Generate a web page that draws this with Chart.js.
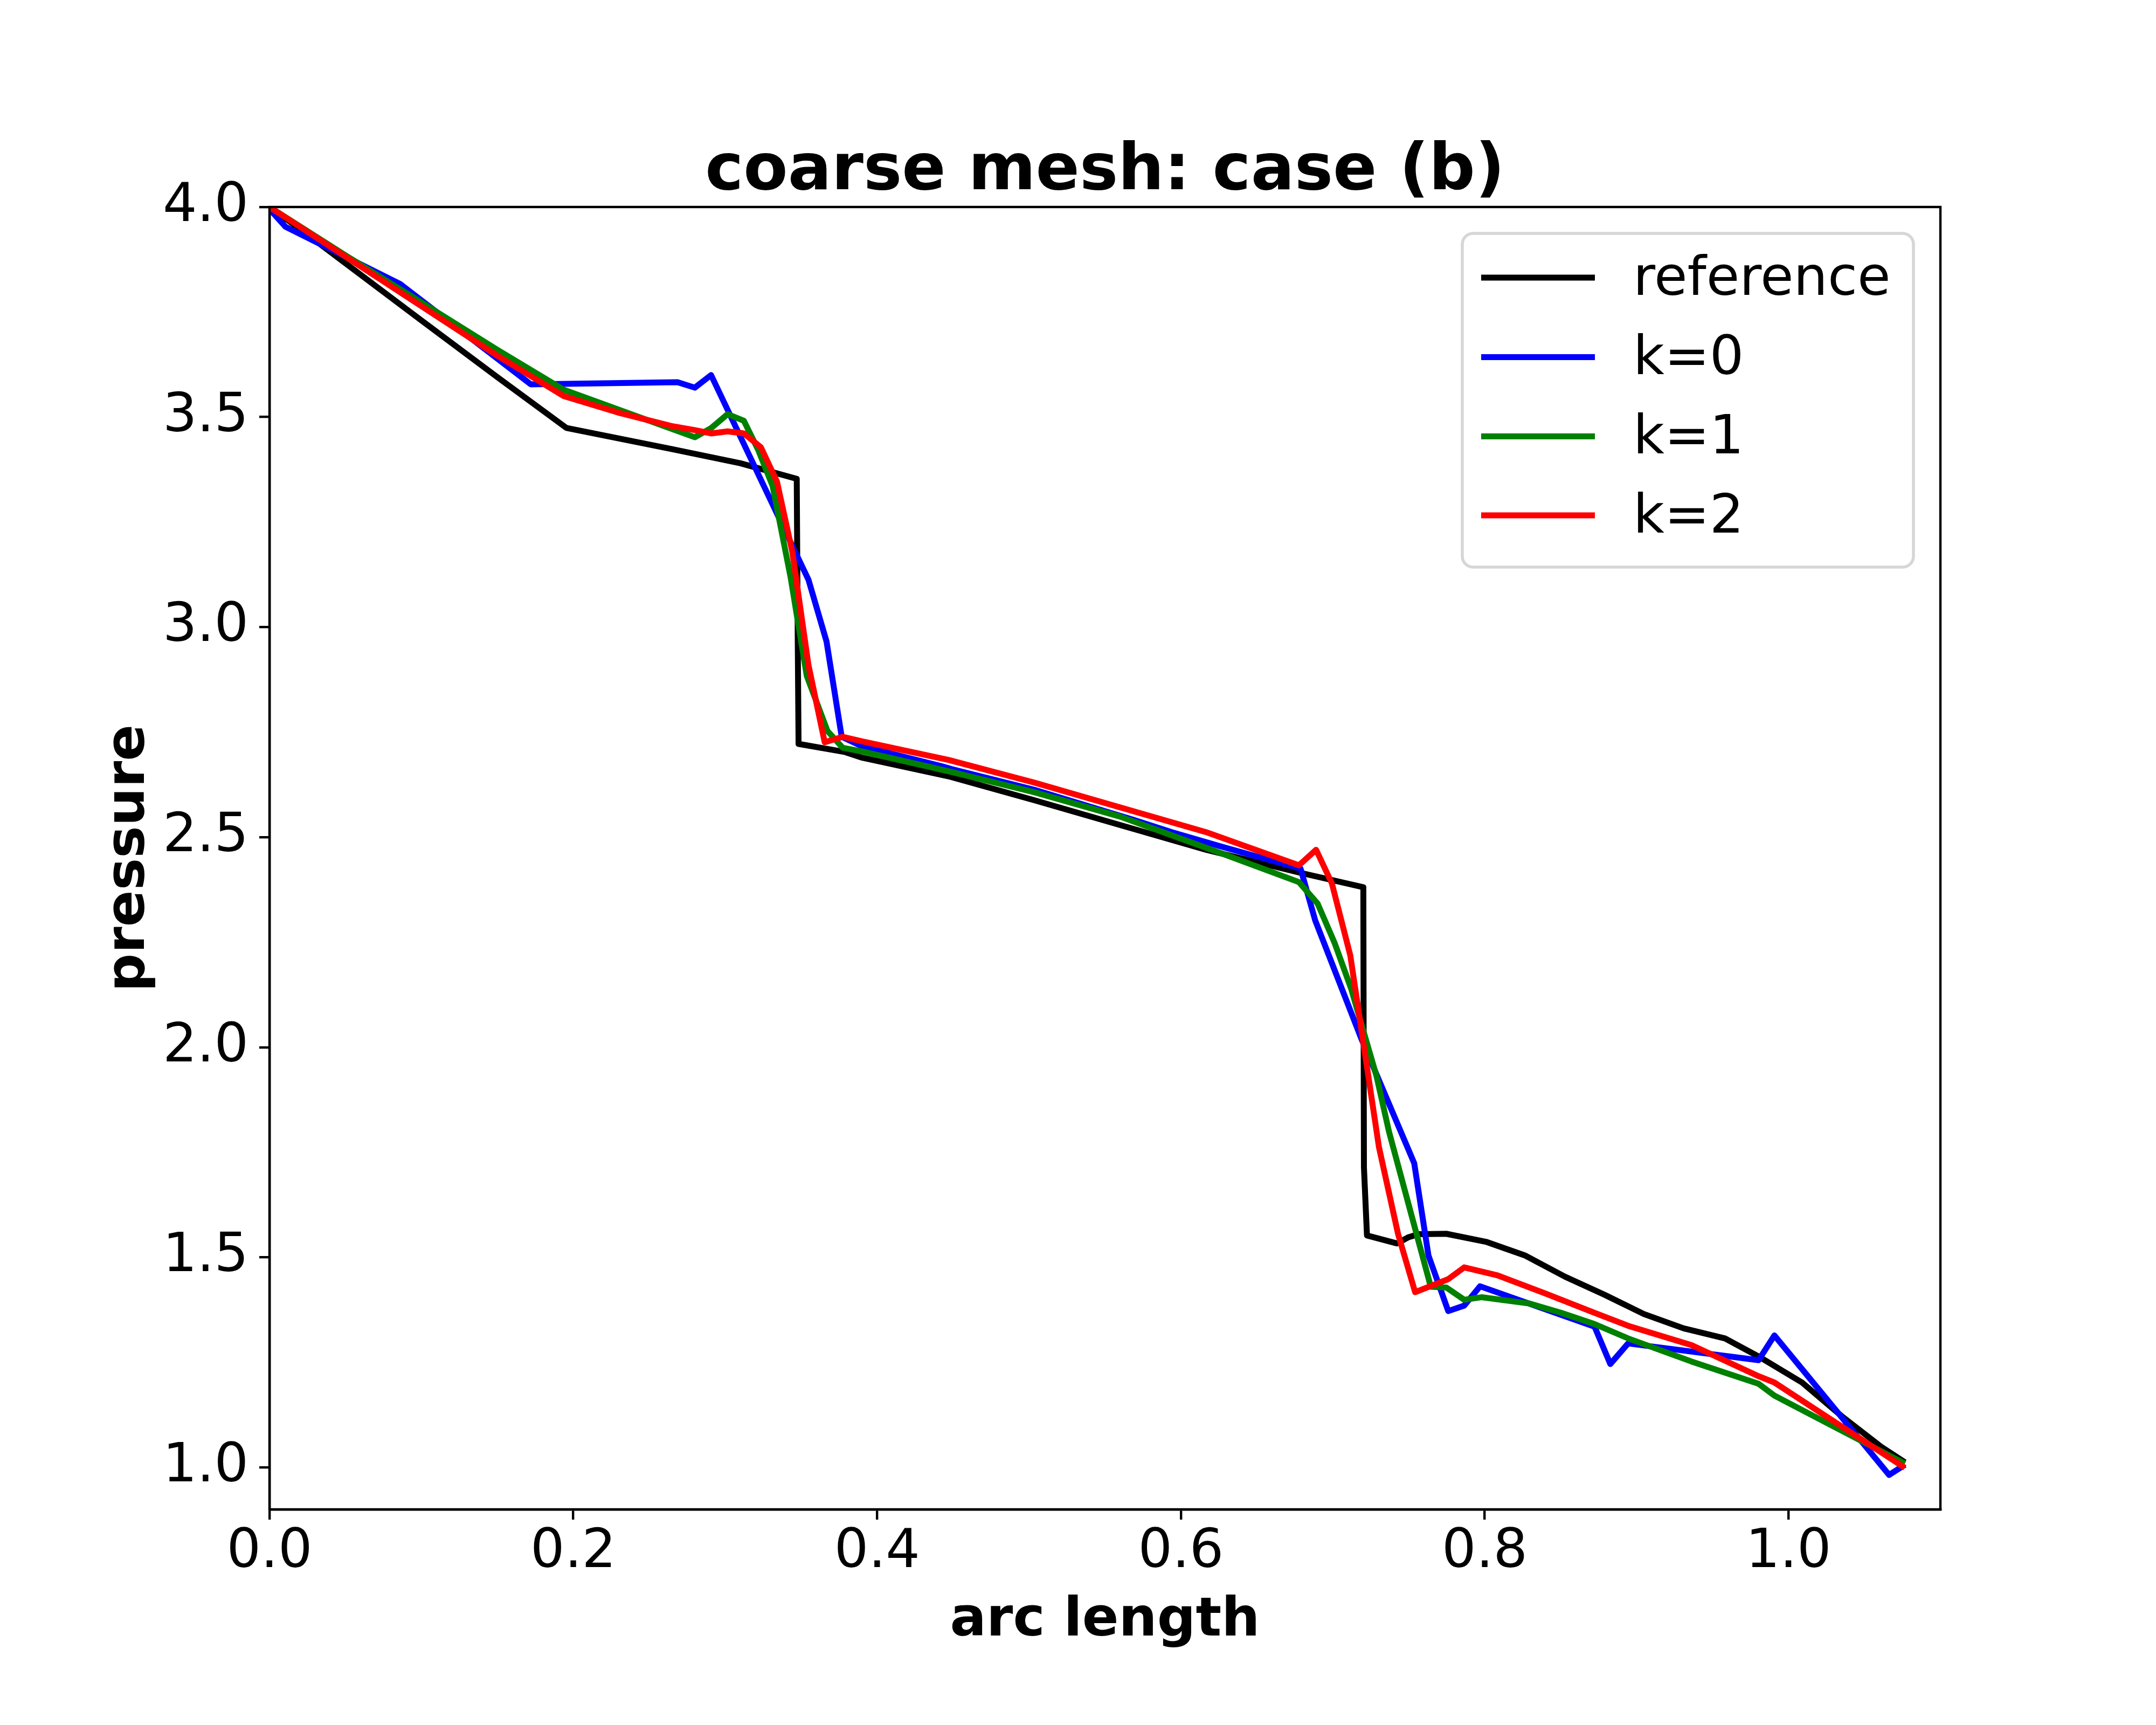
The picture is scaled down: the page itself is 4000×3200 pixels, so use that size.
<!DOCTYPE html>
<html>
<head>
<meta charset="utf-8">
<title>coarse mesh: case (b)</title>
<script src="https://cdn.jsdelivr.net/npm/chart.js@4.4.1/dist/chart.umd.min.js"></script>
<style>
    html, body { margin: 0; padding: 0; background: #fff; }
    canvas { display: block; }
</style>
</head>
<body>
<canvas id="pressureChart" width="4000" height="3200"></canvas>
<script>
// values: arc length (x) vs pressure (y)
const refX = [0, 0.02, 0.05, 0.1, 0.15, 0.1955, 0.2645, 0.31, 0.3471, 0.3478, 0.3483, 0.3785, 0.3903, 0.4469, 0.5035, 0.56, 0.6166, 0.6777, 0.7201, 0.7205, 0.7225, 0.7422, 0.75, 0.7565, 0.7747, 0.8008, 0.8268, 0.8528, 0.8788, 0.9048, 0.9309, 0.9582, 0.9803, 1.0089, 1.035, 1.061, 1.0766];
const refY = [4.0, 3.948, 3.866, 3.73, 3.595, 3.474, 3.424, 3.39, 3.353, 2.95, 2.722, 2.703, 2.689, 2.645, 2.588, 2.529, 2.470, 2.416, 2.381, 1.714, 1.552, 1.533, 1.548, 1.555, 1.556, 1.537, 1.504, 1.454, 1.411, 1.365, 1.331, 1.307, 1.264, 1.202, 1.122, 1.049, 1.012];

const k0X = [0, 0.0105, 0.0859, 0.172, 0.2686, 0.280, 0.2907, 0.3548, 0.3667, 0.3767, 0.3903, 0.4424, 0.4492, 0.5035, 0.569, 0.594, 0.6264, 0.6788, 0.6884, 0.7186, 0.7536, 0.763, 0.776, 0.7865, 0.7969, 0.8723, 0.8827, 0.8944, 0.9803, 0.9907, 1.0662, 1.0766];
const k0Y = [3.995, 3.953, 3.817, 3.578, 3.583, 3.570, 3.600, 3.113, 2.966, 2.739, 2.716, 2.669, 2.662, 2.613, 2.541, 2.512, 2.478, 2.425, 2.302, 2.022, 1.724, 1.504, 1.372, 1.385, 1.431, 1.335, 1.246, 1.295, 1.255, 1.314, 0.982, 1.006];

const k1X = [0, 0.05, 0.1, 0.15, 0.1937, 0.28, 0.2908, 0.3016, 0.3123, 0.3217, 0.3312, 0.343, 0.3537, 0.3673, 0.3773, 0.3903, 0.4469, 0.5035, 0.56, 0.6279, 0.6777, 0.690, 0.7012, 0.7122, 0.7288, 0.737, 0.7533, 0.7645, 0.7748, 0.7865, 0.7982, 0.8294, 0.8502, 0.8723, 0.8944, 0.9361, 0.9803, 0.9907, 1.0766];
const k1Y = [4.0, 3.885, 3.773, 3.66, 3.565, 3.452, 3.474, 3.507, 3.491, 3.422, 3.336, 3.120, 2.884, 2.753, 2.713, 2.704, 2.657, 2.607, 2.549, 2.46, 2.393, 2.342, 2.248, 2.138, 1.931, 1.799, 1.580, 1.430, 1.428, 1.399, 1.405, 1.390, 1.368, 1.341, 1.307, 1.252, 1.199, 1.171, 1.009];

const k2X = [0, 0.05, 0.1, 0.15, 0.1937, 0.2292, 0.2643, 0.28, 0.291, 0.3016, 0.3123, 0.3235, 0.3341, 0.3442, 0.3548, 0.3655, 0.3773, 0.3903, 0.4469, 0.5035, 0.56, 0.6166, 0.6777, 0.689, 0.6994, 0.7115, 0.7304, 0.743, 0.7542, 0.776, 0.7865, 0.8084, 0.8398, 0.8723, 0.8944, 0.9361, 0.9803, 0.9907, 1.0766];
const k2Y = [4.0, 3.882, 3.764, 3.646, 3.55, 3.511, 3.479, 3.469, 3.461, 3.466, 3.461, 3.428, 3.346, 3.179, 2.910, 2.726, 2.739, 2.728, 2.684, 2.630, 2.571, 2.512, 2.433, 2.470, 2.39, 2.219, 1.762, 1.555, 1.417, 1.448, 1.476, 1.457, 1.414, 1.368, 1.337, 1.291, 1.217, 1.202, 0.999];

const seriesLabels = ['reference', 'k=0', 'k=1', 'k=2'];
const seriesColors = ['#000000', '#0000ff', '#008000', '#ff0000'];
const xTicks = [0, 0.2, 0.4, 0.6, 0.8, 1.0];
const yTicks = [1.0, 1.5, 2.0, 2.5, 3.0, 3.5, 4.0];

const chartTitle = 'coarse mesh: case (b)';
const xLabel = 'arc length';
const yLabel = 'pressure';

function toPoints(xs, ys) {
    return xs.map((x, i) => ({ x, y: ys[i] }));
}

const FONT = '"DejaVu Sans", "Liberation Sans", sans-serif';
const LW = 11;       // 2pt at 400 dpi
const SPINE = 4.4;   // 0.8pt

// frame on all four sides, title, axis labels, legend box
const decorations = {
    id: 'decorations',
    afterDatasetsDraw(chart) {
        const { ctx, chartArea: a } = chart;
        ctx.save();
        ctx.strokeStyle = '#000';
        ctx.lineWidth = SPINE;
        ctx.strokeRect(a.left, a.top, a.right - a.left, a.bottom - a.top);
        ctx.restore();
    },
    afterDraw(chart) {
        const { ctx, chartArea: a } = chart;
        const cx = (a.left + a.right) / 2;
        const cy = (a.top + a.bottom) / 2;

        ctx.save();
        ctx.fillStyle = '#000';
        ctx.textAlign = 'center';
        ctx.textBaseline = 'alphabetic';

        ctx.font = `bold 120px ${FONT}`;
        ctx.fillText(chartTitle, cx, a.top - 33);

        ctx.font = `bold 100px ${FONT}`;
        ctx.fillText(xLabel, cx, 3034);

        ctx.save();
        ctx.translate(267, cy);
        ctx.rotate(-Math.PI / 2);
        ctx.fillText(yLabel, 0, 0);
        ctx.restore();

        // legend, upper right
        const box = { x: 2713, y: 433, w: 837, h: 619, r: 20 };
        ctx.beginPath();
        ctx.roundRect(box.x, box.y, box.w, box.h, box.r);
        ctx.fillStyle = 'rgba(255,255,255,0.8)';
        ctx.fill();
        ctx.lineWidth = 5.5;
        ctx.strokeStyle = '#d6d6d6';
        ctx.stroke();

        const rows = [515, 662.5, 809.5, 956];
        ctx.font = `100px ${FONT}`;
        ctx.textAlign = 'left';
        ctx.textBaseline = 'middle';
        chart.data.datasets.forEach((ds, i) => {
            const y = rows[i];
            ctx.beginPath();
            ctx.moveTo(2748, y);
            ctx.lineTo(2959, y);
            ctx.lineWidth = LW;
            ctx.strokeStyle = ds.borderColor;
            ctx.stroke();
            ctx.fillStyle = '#000';
            ctx.fillText(ds.label, 3030, y + 6);
        });
        ctx.restore();
    }
};

const allX = [refX, k0X, k1X, k2X];
const allY = [refY, k0Y, k1Y, k2Y];

const datasets = seriesLabels.map((label, i) => ({
    label,
    data: toPoints(allX[i], allY[i]),
    borderColor: seriesColors[i],
    backgroundColor: seriesColors[i],
    borderWidth: LW,
    borderJoinStyle: 'round',
    borderCapStyle: 'butt',
    pointRadius: 0,
    tension: 0,
    fill: false,
    order: seriesLabels.length - i   // later series drawn on top
}));

new Chart(document.getElementById('pressureChart'), {
    type: 'line',
    data: { datasets },
    options: {
        responsive: false,
        devicePixelRatio: 1,
        animation: false,
        layout: { padding: { top: 384, right: 400, bottom: 0, left: 0 } },
        plugins: {
            legend: { display: false },
            title: { display: false },
            tooltip: { enabled: false }
        },
        scales: {
            x: {
                type: 'linear',
                min: 0,
                max: 1.1,
                afterFit: s => { s.height = 400; },
                afterBuildTicks: s => { s.ticks = xTicks.map(v => ({ value: v })); },
                ticks: {
                    color: '#000',
                    padding: 2,
                    maxRotation: 0,
                    autoSkip: false,
                    font: { family: FONT, size: 100 },
                    callback: v => Number(v).toFixed(1)
                },
                grid: {
                    drawOnChartArea: false,
                    drawTicks: true,
                    tickLength: 19,
                    tickWidth: SPINE,
                    tickColor: '#000',
                    lineWidth: SPINE,
                    color: '#000'
                },
                border: { display: true, color: '#000', width: SPINE }
            },
            y: {
                type: 'linear',
                min: 0.9,
                max: 4.0,
                afterFit: s => { s.width = 500; },
                afterBuildTicks: s => { s.ticks = yTicks.map(v => ({ value: v })); },
                ticks: {
                    color: '#000',
                    padding: 20,
                    autoSkip: false,
                    font: { family: FONT, size: 100 },
                    callback: v => Number(v).toFixed(1)
                },
                grid: {
                    drawOnChartArea: false,
                    drawTicks: true,
                    tickLength: 19,
                    tickWidth: SPINE,
                    tickColor: '#000',
                    lineWidth: SPINE,
                    color: '#000'
                },
                border: { display: true, color: '#000', width: SPINE }
            }
        }
    },
    plugins: [decorations]
});
</script>
</body>
</html>
